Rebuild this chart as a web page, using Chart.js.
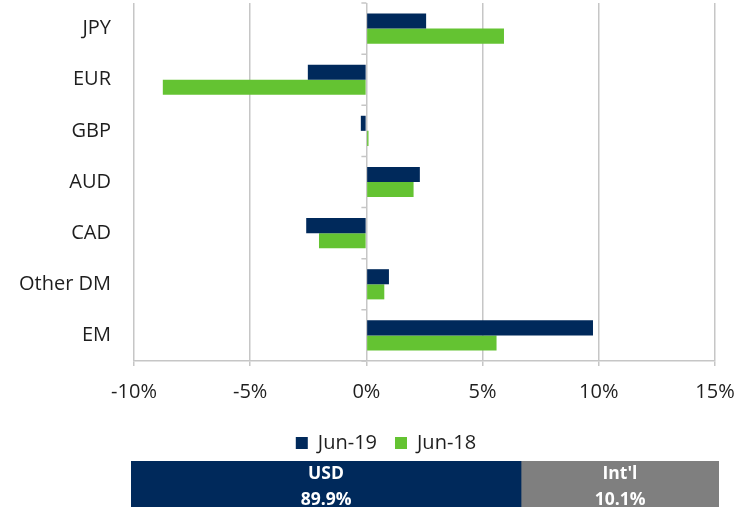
<!DOCTYPE html>
<html>
<head>
<meta charset="utf-8">
<script src="https://cdn.jsdelivr.net/npm/chart.js@4.4.0/dist/chart.umd.min.js"></script>
<style>
  body { margin: 0; background: #fff; overflow: hidden; }
  #wrap { position: relative; width: 756px; height: 507px; overflow: hidden; }
  #fxChart { position: absolute; left: 0; top: 0; }
  #shareChart { position: absolute; left: 131px; top: 461px; }
</style>
</head>
<body>
<div id="wrap">
  <canvas id="fxChart" width="772" height="463"></canvas>
  <canvas id="shareChart" width="588" height="46"></canvas>
</div>
<script>
// exposicion por moneda (%)
const monedas = ['JPY', 'EUR', 'GBP', 'AUD', 'CAD', 'Other DM', 'EM'];
const jun19 = [2.57, -2.52, -0.24, 2.30, -2.59, 0.97, 9.75];
const jun18 = [5.92, -8.76, 0.09, 2.03, -2.04, 0.77, 5.60];
const ejeMin = -10;
const ejeMax = 15;
const ejePaso = 5;

// reparto USD / internacional
const repartoEtiquetas = ['USD', "Int'l"];
const repartoValores = [89.9, 10.1];
const repartoEjeMin = 70; // la barra USD arranca fuera del area visible

const azul = '#00295b';
const verde = '#64c332';
const gris = '#7f7f7f';
const rejilla = '#c6c6c6';
const fuente = "'Open Sans', 'DejaVu Sans', sans-serif";

Chart.defaults.font.family = fuente;
Chart.defaults.color = '#1e1e1e';

// marcas cortas sobre la linea del cero, entre categorias
const marcasCero = {
    id: 'marcasCero',
    afterDraw(chart) {
        const x0 = chart.scales.x.getPixelForValue(0);
        const y = chart.scales.y;
        const ctx = chart.ctx;
        ctx.save();
        ctx.strokeStyle = rejilla;
        ctx.lineWidth = 1.5;
        ctx.beginPath();
        for (let i = 0; i <= monedas.length; i++) {
            const py = y.top + (y.bottom - y.top) * i / monedas.length;
            ctx.moveTo(x0 - 5, py);
            ctx.lineTo(x0, py);
        }
        ctx.stroke();
        ctx.restore();
    }
};

const fxCtx = document.getElementById('fxChart').getContext('2d');
new Chart(fxCtx, {
    type: 'bar',
    data: {
        labels: monedas,
        datasets: [
            { label: 'Jun-19', data: jun19, backgroundColor: azul },
            { label: 'Jun-18', data: jun18, backgroundColor: verde }
        ]
    },
    options: {
        indexAxis: 'y',
        responsive: false,
        animation: false,
        layout: { padding: { top: 3, right: 0, left: 0, bottom: 0 } },
        datasets: { bar: { categoryPercentage: 0.59, barPercentage: 1 } },
        scales: {
            x: {
                min: ejeMin,
                max: ejeMax,
                grid: { color: rejilla, lineWidth: 1.5, tickLength: 5 },
                border: { color: rejilla, width: 1.5 },
                ticks: {
                    stepSize: ejePaso,
                    padding: 14,
                    font: { size: 20 },
                    callback: (v) => v + '%'
                },
                afterFit: (s) => { s.height = 54; }
            },
            y: {
                grid: { display: false, drawTicks: false },
                border: { display: false },
                ticks: { padding: 23, font: { size: 20 } },
                afterFit: (s) => {
                    s.width = 134;
                    // sin margen extra arriba/abajo por las etiquetas
                    s.paddingTop = 0;
                    s.paddingBottom = 0;
                }
            },
            // margen derecho (deja sitio a la etiqueta 15% y centra la leyenda)
            yDer: {
                axis: 'y',
                position: 'right',
                grid: { display: false, drawTicks: false },
                border: { display: false },
                ticks: { display: false },
                afterFit: (s) => { s.width = 57; }
            }
        },
        plugins: {
            legend: {
                position: 'bottom',
                labels: { boxWidth: 12, boxHeight: 12, padding: 18, font: { size: 20 } }
            },
            tooltip: { enabled: false }
        }
    },
    plugins: [marcasCero]
});

// textos dentro de la barra de reparto
const textoReparto = {
    id: 'textoReparto',
    afterDatasetsDraw(chart) {
        const ctx = chart.ctx;
        const area = chart.chartArea;
        ctx.save();
        ctx.fillStyle = '#ffffff';
        ctx.font = 'bold 17.5px ' + fuente;
        ctx.textAlign = 'center';
        ctx.textBaseline = 'middle';
        chart.data.datasets.forEach((ds, i) => {
            const bar = chart.getDatasetMeta(i).data[0];
            const izq = Math.max(Math.min(bar.x, bar.base), area.left);
            const der = Math.min(Math.max(bar.x, bar.base), area.right);
            const cx = (izq + der) / 2;
            ctx.fillText(ds.label, cx, bar.y - 10);
            ctx.fillText(ds.data[0].toFixed(1) + '%', cx, bar.y + 16);
        });
        ctx.restore();
    }
};

const shareCtx = document.getElementById('shareChart').getContext('2d');
new Chart(shareCtx, {
    type: 'bar',
    data: {
        labels: [''],
        datasets: [
            { label: repartoEtiquetas[0], data: [repartoValores[0]], backgroundColor: azul },
            { label: repartoEtiquetas[1], data: [repartoValores[1]], backgroundColor: gris }
        ]
    },
    options: {
        indexAxis: 'y',
        responsive: false,
        animation: false,
        layout: { padding: 0 },
        datasets: { bar: { categoryPercentage: 1, barPercentage: 1 } },
        scales: {
            x: { stacked: true, min: repartoEjeMin, max: 100, display: false },
            y: { stacked: true, display: false }
        },
        plugins: { legend: { display: false }, tooltip: { enabled: false } }
    },
    plugins: [textoReparto]
});
</script>
</body>
</html>
